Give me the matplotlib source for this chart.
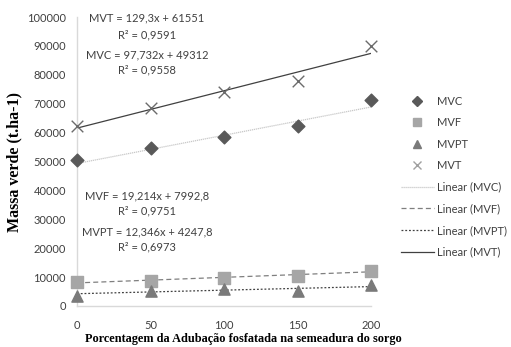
import numpy as np
import matplotlib
matplotlib.use("Agg")
import matplotlib.pyplot as plt
from matplotlib.lines import Line2D

plt.rcParams['font.family'] = ['Lato', 'DejaVu Sans']

x = [0, 50, 100, 150, 200]
mvc = [50500, 54600, 58400, 62300, 71300]
mvf = [8200, 8800, 9800, 10500, 12000]
mvpt = [3500, 5300, 5800, 5200, 7100]
mvt = [62200, 68500, 74000, 78000, 90000]

# trend line coefficients (slope, intercept) from the equations on the chart
fit_mvc = (97.732, 49312)
fit_mvf = (19.214, 7992.8)
fit_mvpt = (12.346, 4247.8)
fit_mvt = (129.3, 61551)

eq_texts = ["MVT = 129,3x + 61551", "R² = 0,9591",
            "MVC = 97,732x + 49312", "R² = 0,9558",
            "MVF = 19,214x + 7992,8", "R² = 0,9751",
            "MVPT = 12,346x + 4247,8", "R² = 0,6973"]

fig = plt.figure(figsize=(5.11, 3.47), dpi=100)
ax = fig.add_axes([77/511, 1 - 306/347, (371-77)/511, (306-17)/347])

xs = np.array([0, 200])
ax.plot(xs, fit_mvc[0]*xs + fit_mvc[1], color='#c8c8c8', lw=0.9, ls=(0, (1, 0.6)))
ax.plot(xs, fit_mvf[0]*xs + fit_mvf[1], color='#7f7f7f', lw=0.9, ls=(0, (4, 2.5)))
ax.plot(xs, fit_mvpt[0]*xs + fit_mvpt[1], color='#404040', lw=0.9, ls=(0, (1.5, 1.5)))
ax.plot(xs, fit_mvt[0]*xs + fit_mvt[1], color='#404040', lw=0.9)

ax.scatter(x, mvc, marker='D', s=42, color='#595959', zorder=3, clip_on=False)
ax.scatter(x, mvf, marker='s', s=65, color='#a6a6a6', zorder=3, clip_on=False)
ax.scatter(x, mvpt, marker='^', s=65, color='#7a7a7a', zorder=3, clip_on=False)
ax.scatter(x, mvt, marker='x', s=70, color='#6b6b6b', lw=1, zorder=3, clip_on=False)

ax.set_xlim(0, 200)
ax.set_ylim(0, 100000)
ax.set_xticks(x)
ax.set_yticks(range(0, 100001, 10000))
ax.tick_params(length=0, labelsize=8, colors='#404040', pad=8)
ax.tick_params(axis='x', pad=10)
for s in ['top', 'right']:
    ax.spines[s].set_visible(False)
for s in ['left', 'bottom']:
    ax.spines[s].set_color('#d9d9d9')
    ax.spines[s].set_linewidth(1)

ax.set_ylabel("Massa verde (t.ha-1)", family='Liberation Serif', fontweight='bold',
              fontsize=11.5, labelpad=3)
ax.set_xlabel("Porcentagem da Adubação fosfatada na semeadura do sorgo",
              family='Liberation Serif', fontweight='bold', fontsize=8.8)
ax.xaxis.set_label_coords(0.565, -27/289)

ys = [18, 35, 55, 70, 196, 211, 232, 247]
for t, yy in zip(eq_texts, ys):
    fig.text(147/511, 1 - yy/347, t, ha='center', va='center', fontsize=8, color='#404040')

handles = [
    Line2D([], [], marker='D', ls='none', color='#595959', ms=5),
    Line2D([], [], marker='s', ls='none', color='#a6a6a6', ms=6),
    Line2D([], [], marker='^', ls='none', color='#7a7a7a', ms=6),
    Line2D([], [], marker='x', ls='none', color='#a0a0a0', ms=6),
    Line2D([], [], color='#c8c8c8', lw=0.9, ls=(0, (1, 0.6))),
    Line2D([], [], color='#7f7f7f', lw=0.9, ls=(0, (4, 2.5))),
    Line2D([], [], color='#404040', lw=0.9, ls=(0, (1.5, 1.5))),
    Line2D([], [], color='#404040', lw=0.9),
]
labels = ["MVC", "MVF", "MVPT", "MVT", "Linear (MVC)", "Linear (MVF)",
          "Linear (MVPT)", "Linear (MVT)"]
fig.legend(handles, labels, loc='upper left', bbox_to_anchor=(395/511, 1 - 90/347),
           frameon=False, fontsize=8, labelcolor='#404040', handlelength=3,
           handletextpad=0.3, labelspacing=0.95, borderpad=0)

fig.savefig("out.png", dpi=100)
